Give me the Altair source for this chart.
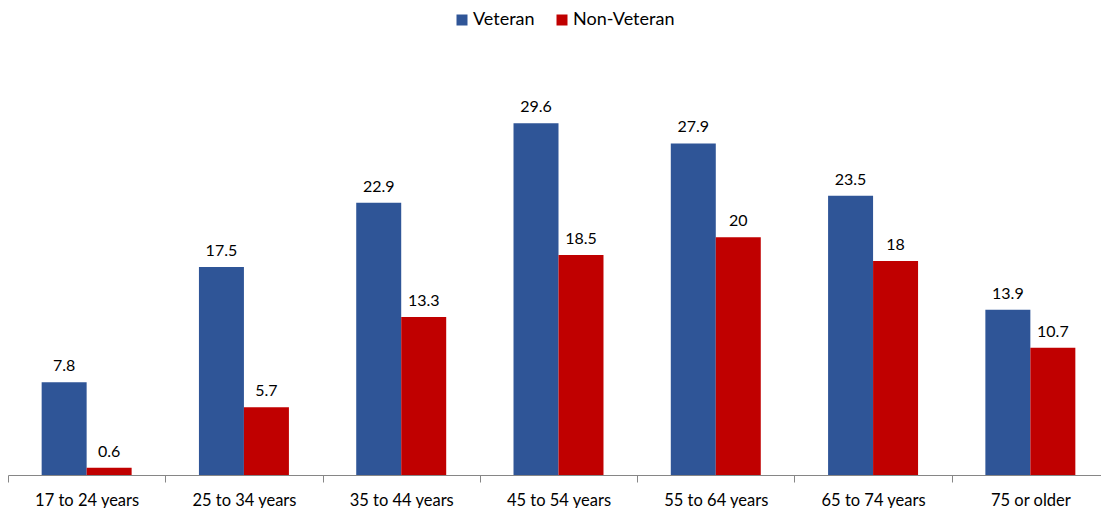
import altair as alt
import pandas as pd

# Age groups and share (%) for each population
age_groups = ["17 to 24 years", "25 to 34 years", "35 to 44 years", "45 to 54 years",
              "55 to 64 years", "65 to 74 years", "75 or older"]
veteran = [7.8, 17.5, 22.9, 29.6, 27.9, 23.5, 13.9]
non_veteran = [0.6, 5.7, 13.3, 18.5, 20, 18, 10.7]
series = ["Veteran", "Non-Veteran"]
colors = ["#2F5597", "#C00000"]

rows = []
for g, v, n in zip(age_groups, veteran, non_veteran):
    rows.append({"group": g, "series": "Veteran", "value": v})
    rows.append({"group": g, "series": "Non-Veteran", "value": n})
df = pd.DataFrame(rows)

FONT = "Lato"

x_enc = alt.X(
    "group:N",
    sort=age_groups,
    scale=alt.Scale(paddingInner=0, paddingOuter=0, range=[0, 1101]),
    axis=alt.Axis(
        title=None, labelAngle=0, tickBand="extent", domainColor="#868686",
        tickColor="#868686", tickSize=7, labelFontSize=16.5, labelFont=FONT,
        labelColor="#000000", labelPadding=10, grid=False, labelBaseline="top",
    ),
)
xo_enc = alt.XOffset("series:N", sort=series,
                     scale=alt.Scale(paddingInner=0, paddingOuter=0.748))
y_enc = alt.Y("value:Q", scale=alt.Scale(domain=[0, 35]), axis=None)

bars = alt.Chart(df).mark_bar().encode(
    x=x_enc,
    xOffset=xo_enc,
    y=y_enc,
    color=alt.Color(
        "series:N", sort=series,
        scale=alt.Scale(domain=series, range=colors),
        legend=alt.Legend(
            title=None, orient="none", direction="horizontal",
            legendX=445, legendY=-48, symbolType="square", symbolSize=121,
            symbolStrokeWidth=0, labelFontSize=18, labelFont=FONT,
            labelColor="#000000", columnPadding=18, labelOffset=2,
        ),
    ),
)

labels = alt.Chart(df).mark_text(
    baseline="bottom", dy=-8, fontSize=16, font=FONT, color="#000000"
).encode(
    x=alt.X("group:N", sort=age_groups),
    xOffset=alt.XOffset("series:N", sort=series),
    y="value:Q",
    text=alt.Text("value:Q"),
)

chart = (
    alt.layer(bars, labels)
    .properties(
        width=1093, height=416,
        background="#ffffff",
        autosize=alt.AutoSizeParams(type="none"),
        padding={"left": 8, "top": 59, "right": 0, "bottom": 33},
    )
    .configure_view(strokeWidth=0, stroke="transparent")
)

chart.save("out.html", embed_options={"renderer": "svg", "actions": False})
